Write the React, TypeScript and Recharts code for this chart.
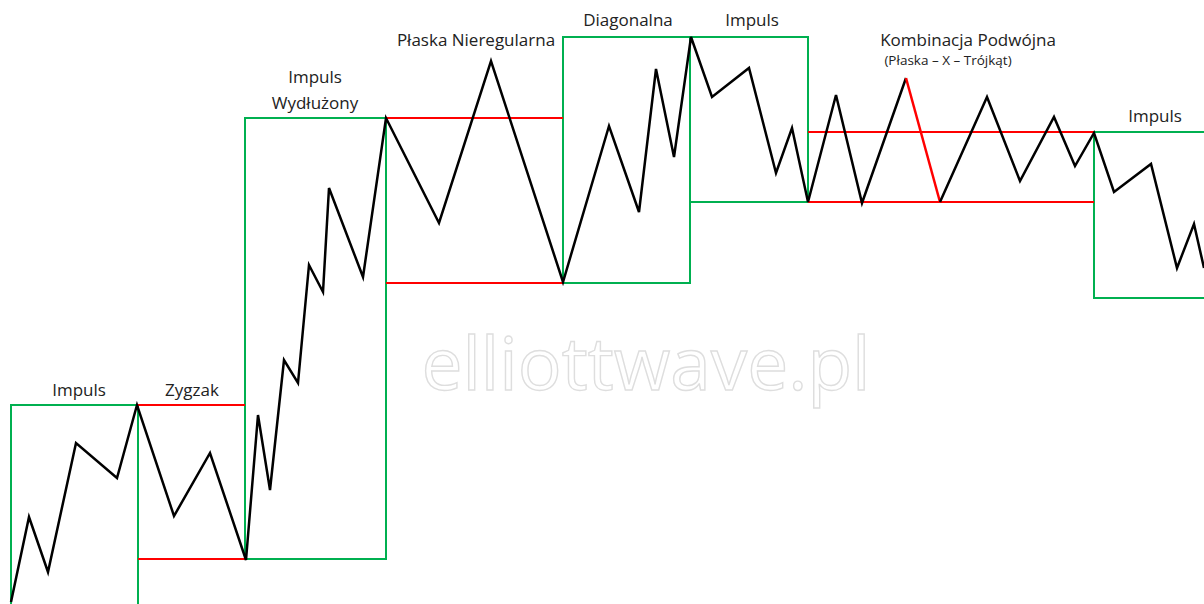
import { ComposedChart, Line, XAxis, YAxis, ReferenceArea, ReferenceLine, ReferenceDot } from "recharts";

// price path, time -> price
const waveTime = [11, 29, 48, 76, 117, 137, 174, 210, 246, 258, 270, 284, 298, 309, 323, 329, 363, 386, 439, 491, 563, 609, 639, 656, 674, 691, 712, 749, 776, 792, 808, 836, 862, 906];
const wavePrice = [2, 87, 32, 161, 126, 199, 88, 151, 44, 189, 114, 244, 221, 339, 312, 416, 327, 486, 381, 543, 322, 478, 392, 535, 447, 567, 507, 536, 431, 476, 402, 509, 401, 526];

// the "X" leg of the combination, drawn in red
const xLegTime = [906, 940];
const xLegPrice = [526, 402];

const tailTime = [940, 987, 1020, 1054, 1075, 1094, 1114, 1151, 1177, 1194, 1204];
const tailPrice = [402, 507, 423, 487, 438, 471, 412, 440, 336, 380, 336];

// green boxes: [t0, t1, low, high]
const impulseBoxes = [
  [11, 138, -10, 199],
  [245, 386, 45, 486],
  [563, 690, 321, 567],
  [690, 808, 402, 567],
  [1094, 1220, 306, 472],
];

// red correction ranges: [t0, t1, level]
const correctionLevels = [
  [138, 245, 199],
  [138, 245, 45],
  [386, 563, 486],
  [386, 563, 321],
  [808, 1094, 472],
  [808, 1094, 402],
];

const labelText = ["Impuls", "Zygzak", "Impuls", "Wydłużony", "Płaska Nieregularna", "Diagonalna", "Impuls", "Kombinacja Podwójna", "(Płaska – X – Trójkąt)", "Impuls"];
const labelTime = [79, 192, 315, 315, 476, 628, 752, 968, 948, 1155];
const labelPrice = [214, 214, 527, 501, 564, 584, 584, 564, 544, 488];
const labelSmall = [false, false, false, false, false, false, false, false, true, false];

const toPoints = (t: number[], p: number[]) => t.map((x, i) => ({ t: x, price: p[i] }));

const GREEN = "#00b050";
const RED = "#ff0000";
const FONT = "'Open Sans', sans-serif";

export default function App() {
  return (
    <div style={{ position: "absolute", left: 0, top: 0, width: 1204, height: 604, background: "#fff" }}>
      <ComposedChart width={1204} height={604} margin={{ top: 0, right: 0, bottom: 0, left: 0 }}>
        <XAxis dataKey="t" type="number" domain={[0, 1204]} hide allowDataOverflow />
        <YAxis type="number" domain={[0, 604]} hide allowDataOverflow />

        <ReferenceDot
          x={646}
          y={214}
          r={0}
          ifOverflow="visible"
          label={(props: any) => {
            const vb = props.viewBox || {};
            const cx = (vb.x ?? 0) + (vb.width ?? 0) / 2;
            const cy = (vb.y ?? 0) + (vb.height ?? 0) / 2;
            return (
              <text x={cx} y={cy} textAnchor="middle" fontFamily={FONT} fontSize={73} fill="#fff" stroke="#dedede" strokeWidth={1.4}>
                elliottwave.pl
              </text>
            );
          }}
        />

        {impulseBoxes.map((b, i) => (
          <ReferenceArea key={"box" + i} x1={b[0]} x2={b[1]} y1={b[2]} y2={b[3]} fill="none" fillOpacity={0} stroke={GREEN} strokeWidth={2} ifOverflow="hidden" />
        ))}
        {correctionLevels.map((c, i) => (
          <ReferenceLine key={"lvl" + i} segment={[{ x: c[0], y: c[2] }, { x: c[1], y: c[2] }]} stroke={RED} strokeWidth={2} ifOverflow="hidden" />
        ))}

        <Line data={toPoints(waveTime, wavePrice)} dataKey="price" stroke="#000" strokeWidth={2.5} dot={false} activeDot={false} isAnimationActive={false} />
        <Line data={toPoints(xLegTime, xLegPrice)} dataKey="price" stroke={RED} strokeWidth={2.5} dot={false} activeDot={false} isAnimationActive={false} />
        <Line data={toPoints(tailTime, tailPrice)} dataKey="price" stroke="#000" strokeWidth={2.5} dot={false} activeDot={false} isAnimationActive={false} />

        {labelText.map((txt, i) => (
          <ReferenceDot
            key={"lbl" + i}
            x={labelTime[i]}
            y={labelPrice[i]}
            r={0}
            ifOverflow="visible"
            label={(props: any) => {
              const vb = props.viewBox || {};
              const cx = (vb.x ?? 0) + (vb.width ?? 0) / 2;
              const cy = (vb.y ?? 0) + (vb.height ?? 0) / 2;
              return (
                <text x={cx} y={cy} dy="0.35em" textAnchor="middle" fontFamily={FONT} fontSize={labelSmall[i] ? 13.5 : 17} fill="#222">
                  {txt}
                </text>
              );
            }}
          />
        ))}
      </ComposedChart>
    </div>
  );
}
